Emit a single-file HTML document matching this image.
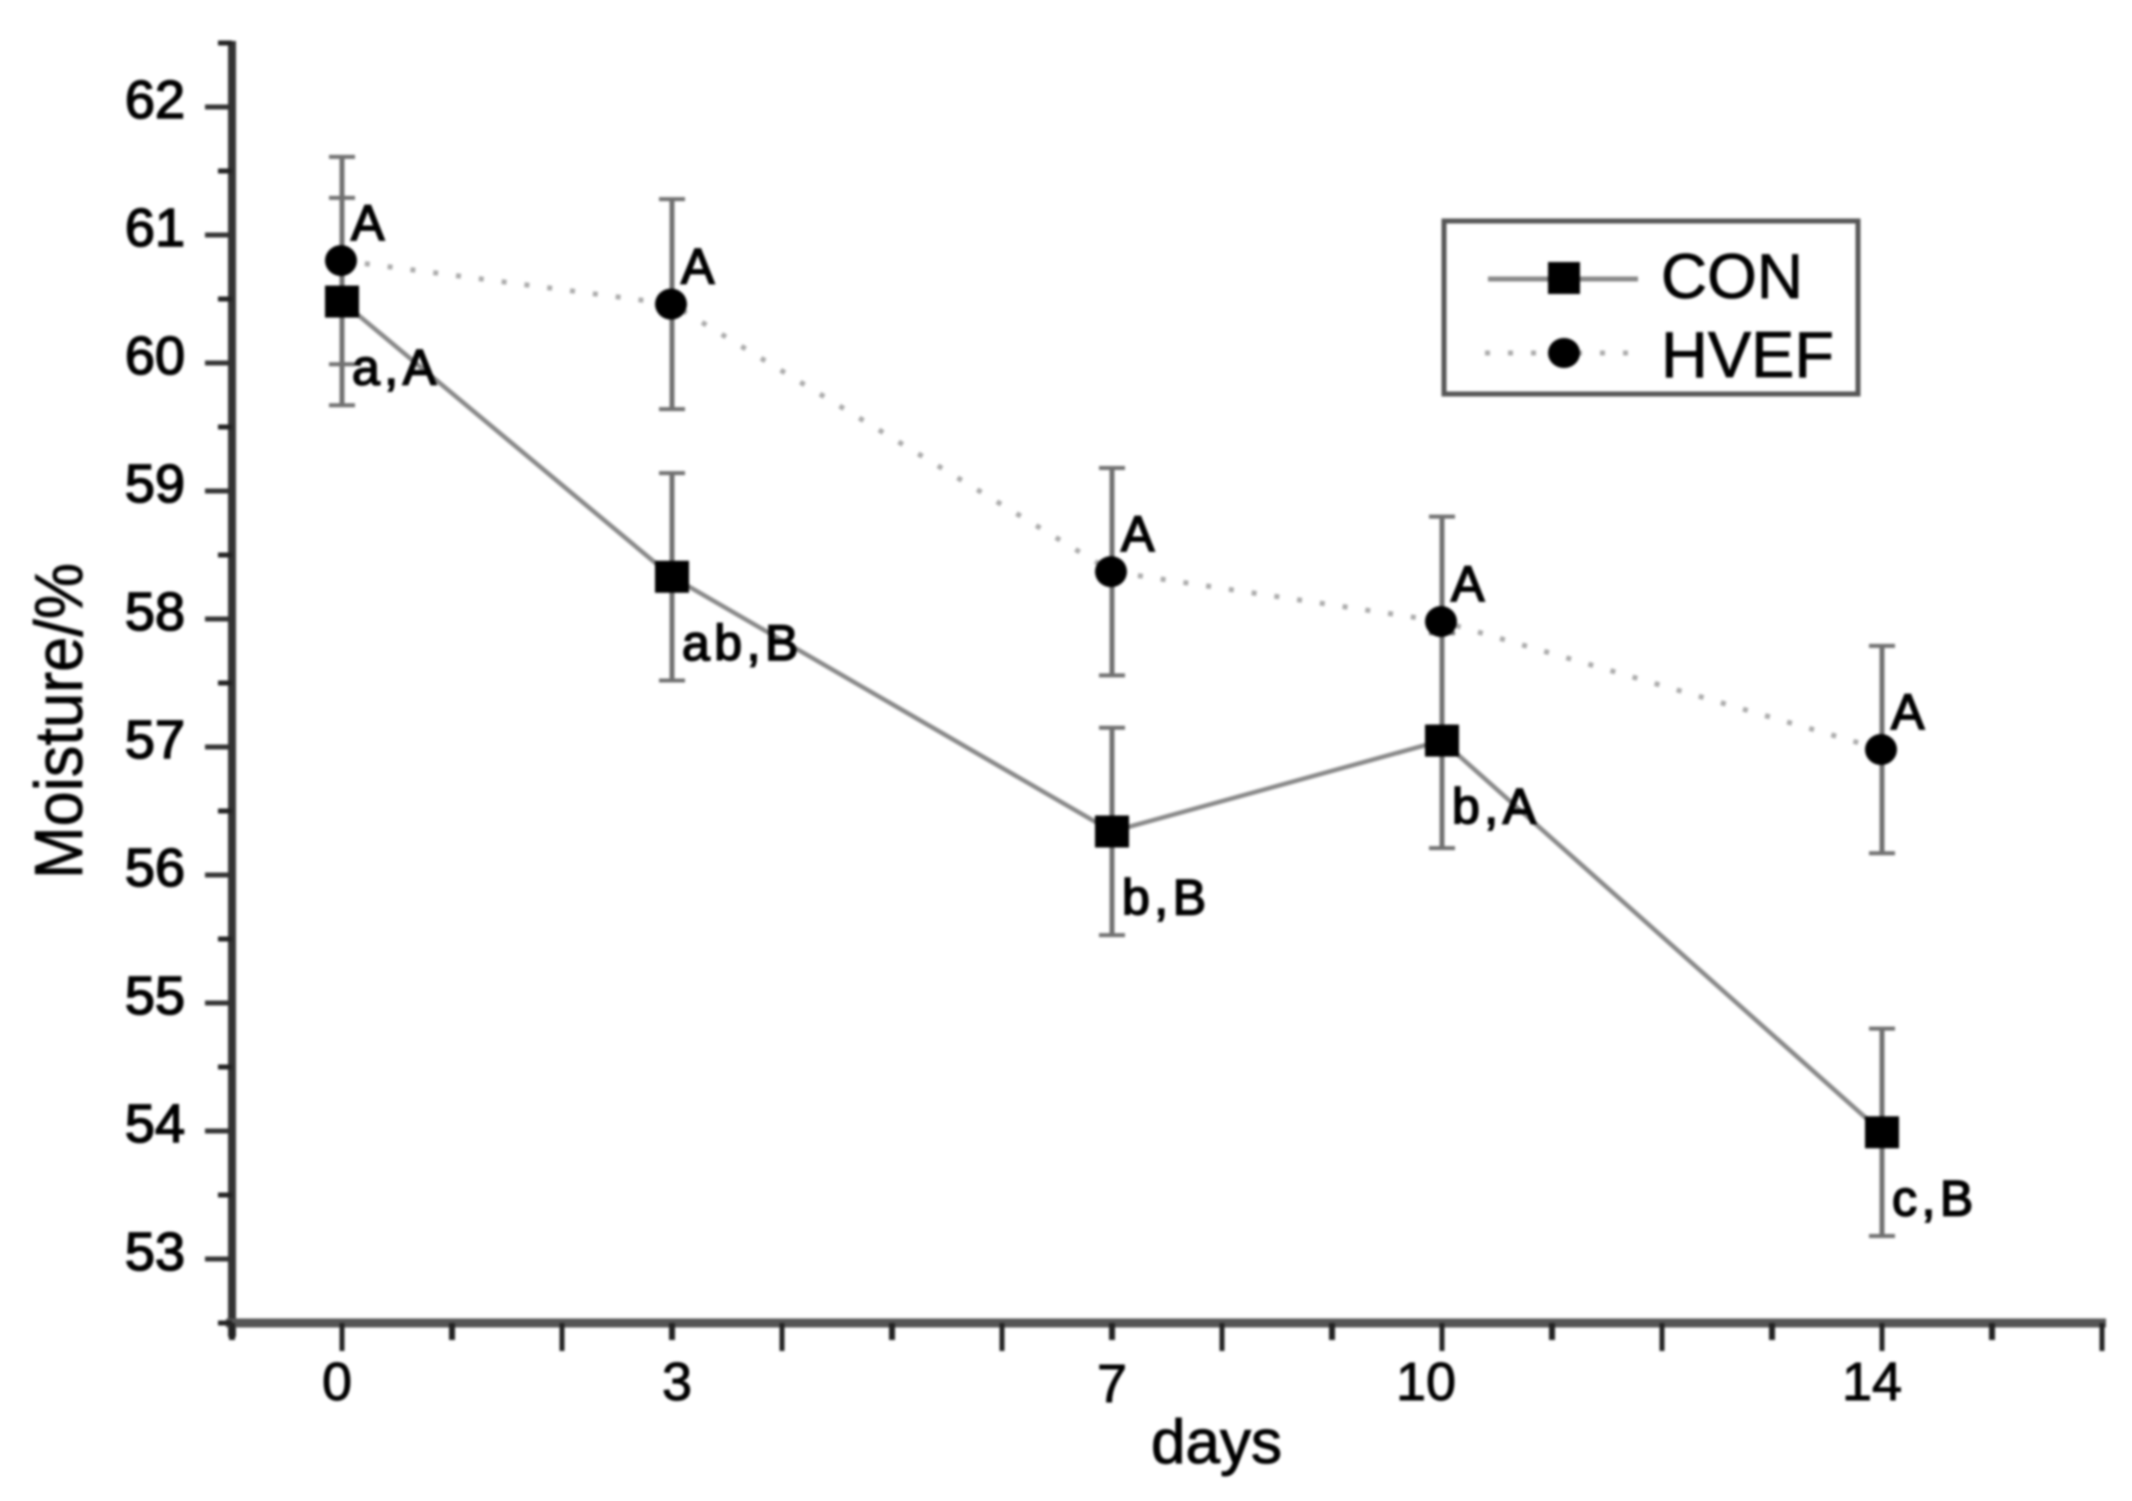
<!DOCTYPE html>
<html lang="en">
<head>
<meta charset="utf-8">
<title>Moisture over storage days</title>
<style>
  html, body { margin: 0; padding: 0; background: #fff; }
  body { width: 2132px; height: 1501px; overflow: hidden; }
  #chart { display: block; filter: blur(1.4px); }
  text { font-family: "Liberation Sans", "DejaVu Sans", sans-serif; fill: #000; }
</style>
</head>
<body>
<svg id="chart" width="2132" height="1501" viewBox="0 0 2132 1501" xmlns="http://www.w3.org/2000/svg">
  <rect x="0" y="0" width="2132" height="1501" fill="#fff"></rect>
  <g id="axes"></g>
  <g id="plot"></g>
  <text x="1151" y="1463" font-size="62" stroke="#000" stroke-width="1">days</text>
  <text transform="translate(82,879) rotate(-90)" font-size="68" textLength="316" lengthAdjust="spacingAndGlyphs" stroke="#000" stroke-width="0.7">Moisture/%</text>
  <g>
    <rect x="1444" y="221" width="414" height="173" fill="#fff" stroke="#555" stroke-width="5"></rect>
    <g>
      <line x1="1488" y1="279" x2="1638" y2="279" stroke="#888" stroke-width="5"></line>
      <rect x="1548" y="262" width="32" height="32" fill="#000"></rect>
      <text x="1661" y="298" font-size="63" textLength="142" lengthAdjust="spacingAndGlyphs" stroke="#000" stroke-width="0.8">CON</text>
    </g>
    <g>
      <line x1="1485" y1="353" x2="1630" y2="353" stroke="#aaa" stroke-width="5" stroke-dasharray="5 18"></line>
      <ellipse cx="1564" cy="353" rx="16" ry="15" fill="#000"></ellipse>
      <text x="1661" y="377" font-size="65" textLength="173" lengthAdjust="spacingAndGlyphs" stroke="#000" stroke-width="0.8">HVEF</text>
    </g>
  </g>
</svg>
<script>
const days = [0, 3, 7, 10, 14];
const conValues = [60.48, 58.33, 56.34, 57.05, 53.99];
const hvefValues = [60.8, 60.46, 58.37, 57.98, 56.98];
const conErrors = [0.81, 0.81, 0.81, 0.84, 0.81];
const hvefErrors = [0.81, 0.82, 0.81, 0.82, 0.81];
const conLabels = ['a,A', 'ab,B', 'b,B', 'b,A', 'c,B'];
const hvefLabels = ['A', 'A', 'A', 'A', 'A'];
const yTickValues = [62, 61, 60, 59, 58, 57, 56, 55, 54, 53];

const NS = 'http://www.w3.org/2000/svg';
const xScale = function (d) { return 342 + 110 * d; };
const yScale = function (v) { return 107 + (62 - v) * 128; };
const axes = document.getElementById('axes');
const plot = document.getElementById('plot');

function make(tag, attrs, parent, text) {
  const el = document.createElementNS(NS, tag);
  Object.keys(attrs).forEach(function (k) { el.setAttribute(k, attrs[k]); });
  if (text !== undefined) el.textContent = text;
  parent.appendChild(el);
  return el;
}

/* ---------- axes ---------- */
const AXIS_X = 232, AXIS_Y = 1323, XMIN = -1, XMAX = 16, YMIN = 52.5, YMAX = 62.5;

let el = make('line', { x1: AXIS_X, y1: yScale(YMAX) - 2, x2: AXIS_X, y2: AXIS_Y + 14, stroke: '#333', 'stroke-width': 8 }, axes);



el = make('line', { x1: AXIS_X - 6, y1: AXIS_Y, x2: xScale(XMAX) + 4, y2: AXIS_Y, stroke: '#555', 'stroke-width': 9 }, axes);



/* y minor ticks at half units across the axis range */
for (let v = YMIN; v <= YMAX; v += 1) {
  el = make('line', { x1: 218, y1: yScale(v), x2: AXIS_X, y2: yScale(v), stroke: '#222', 'stroke-width': 5 }, axes);
  
  
}

yTickValues.forEach(function (v) {
  const tick = make('line', { x1: 205, y1: yScale(v), x2: AXIS_X, y2: yScale(v), stroke: '#333', 'stroke-width': 5 }, axes);
  
  
  const label = make('text', { x: 185, y: yScale(v) + 11, 'font-size': 54, 'text-anchor': 'end', stroke: '#000', 'stroke-width': 1.6 }, axes, String(v));
  
  
});

/* x ticks: one per day, longer on even days */
for (let d = XMIN; d <= XMAX; d += 1) {
  const major = d % 2 === 0;
  const xTick = make('line', { x1: xScale(d), y1: AXIS_Y, x2: xScale(d), y2: major ? 1351 : 1340, stroke: '#222', 'stroke-width': major ? 5 : 6 }, axes);
  
  
}

days.forEach(function (d) {
  const nudge = d === 10 ? -16 : d === 14 ? -10 : d === 0 ? -5 : d === 3 ? 5 : 0;
  const label = make('text', { x: xScale(d) + nudge, y: d === 7 ? 1402 : 1400, 'font-size': 54, 'text-anchor': 'middle', stroke: '#000', 'stroke-width': 1 }, axes, String(d));
  
  
});

/* ---------- series ---------- */
function pointsFor(values) {
  return days.map(function (d, i) { return xScale(d) + ',' + yScale(values[i]); }).join(' ');
}

function drawErrors(values, errors, name, colour) {
  days.forEach(function (d, i) {
    const x = xScale(d), top = yScale(values[i] + errors[i]), bottom = yScale(values[i] - errors[i]);
    const stem = make('line', { x1: x, y1: top, x2: x, y2: bottom, stroke: colour, 'stroke-width': 5 }, plot);
    
    
    const capTop = make('line', { x1: x - 13, y1: top, x2: x + 13, y2: top, stroke: colour, 'stroke-width': 4 }, plot);
    
    
    const capBottom = make('line', { x1: x - 13, y1: bottom, x2: x + 13, y2: bottom, stroke: colour, 'stroke-width': 4 }, plot);
    
    
  });
}

drawErrors(hvefValues, hvefErrors, 'hvef', '#707070');
drawErrors(conValues, conErrors, 'con', '#707070');

el = make('polyline', { points: pointsFor(conValues), fill: 'none', stroke: '#888', 'stroke-width': 4.5 }, plot);



el = make('polyline', { points: pointsFor(hvefValues), fill: 'none', stroke: '#aaa', 'stroke-width': 5, 'stroke-dasharray': '5 18' }, plot);



days.forEach(function (d, i) {
  const square = make('rect', { x: xScale(d) - 17, y: yScale(conValues[i]) - 16, width: 34, height: 32, fill: '#000' }, plot);
  
  
  const circle = make('ellipse', { cx: xScale(d) - 1, cy: yScale(hvefValues[i]), rx: 16, ry: 15.5, fill: '#000' }, plot);
  
  
  const conText = make('text', { x: xScale(d) + 10, y: yScale(conValues[i]) + 83, 'font-size': 50, 'letter-spacing': 4.5, stroke: '#000', 'stroke-width': 1.7 }, plot, conLabels[i]);
  
  
  const hvefText = make('text', { x: xScale(d) + 9, y: yScale(hvefValues[i]) - 20.5, 'font-size': 50, stroke: '#000', 'stroke-width': 1.7 }, plot, hvefLabels[i]);
  
  
});
</script>
</body>
</html>
